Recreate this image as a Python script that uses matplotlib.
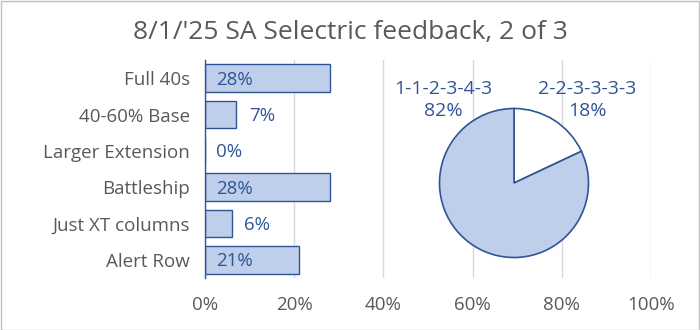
import matplotlib.pyplot as plt
from matplotlib.patches import Rectangle

plt.rcParams["font.family"] = ["Open Sans", "DejaVu Sans"]

# Survey responses
categories = ["Full 40s", "40-60% Base", "Larger Extension", "Battleship", "Just XT columns", "Alert Row"]
shares = [28, 7, 0, 28, 6, 21]

pie_labels = ["2-2-3-3-3-3", "1-1-2-3-4-3"]
pie_shares = [18, 82]

ticks = [0, 20, 40, 60, 80, 100]

FILL = "#BFCEEB"
EDGE = "#2F5597"
TEXT_BLUE = "#2F5597"
GREY_TEXT = "#595959"
GRID = "#D9D9D9"

W, H = 700, 330
fig = plt.figure(figsize=(W / 100, H / 100), dpi=100)
fig.patch.set_facecolor("white")
fig.patches.append(Rectangle((0.5 / W, 0.5 / H), 1 - 1.5 / W, 1 - 1.5 / H,
                             transform=fig.transFigure, fill=False,
                             edgecolor="#BFBFBF", linewidth=1.0))

fig.text(0.5, 1 - 32 / H, "8/1/'25 SA Selectric feedback, 2 of 3",
         ha="center", va="center", fontsize=19, color=GREY_TEXT)

# bar chart axes
left, right, top, bottom = 205, 651, 60, 278
ax = fig.add_axes([left / W, 1 - bottom / H, (right - left) / W, (bottom - top) / H])
y = list(range(len(categories)))
ax.barh(y, shares, height=0.77, color=FILL, edgecolor=EDGE, linewidth=1.0, zorder=3)
ax.set_ylim(len(categories) - 0.5, -0.5)
ax.set_xlim(0, 100)
ax.set_xticks(ticks)
ax.set_xticklabels([f"{t}%" for t in ticks], fontsize=13.5, color=GREY_TEXT)
ax.set_yticks(y)
ax.set_yticklabels(categories, fontsize=13.5, color=GREY_TEXT)
ax.tick_params(axis="y", length=0, pad=11)
ax.tick_params(axis="x", length=0, pad=13)
ax.grid(axis="x", color=GRID, linewidth=1.0, zorder=0)
for side in ["top", "right", "bottom"]:
    ax.spines[side].set_visible(False)
ax.spines["left"].set_color(EDGE)
ax.spines["left"].set_linewidth(1.0)
ax.spines["left"].set_zorder(4)

for yi, v in zip(y, shares):
    if v >= 10 or v == 0:
        xpos, off = 0, 8
    else:
        xpos, off = v, 9
    ax.annotate(f"{v}%", xy=(xpos, yi), xytext=(off, -1), textcoords="offset points",
                ha="left", va="center", fontsize=13.5, color=TEXT_BLUE, zorder=5)

# pie chart axes
cx, cy, r = 514, 183, 76
pax = fig.add_axes([(cx - r) / W, 1 - (cy + r) / H, 2 * r / W, 2 * r / H])
pax.pie(pie_shares, colors=["white", FILL], startangle=90, counterclock=False,
        wedgeprops=dict(edgecolor=EDGE, linewidth=1.2))
pax.set_xlim(-1.02, 1.02)
pax.set_ylim(-1.02, 1.02)
pax.set_aspect("equal")
pax.text(0.98, 1.11, f"{pie_labels[0]}\n{pie_shares[0]}%", ha="center", va="center",
         fontsize=14, color=TEXT_BLUE, linespacing=1.3, clip_on=False)
pax.text(-0.95, 1.11, f"{pie_labels[1]}\n{pie_shares[1]}%", ha="center", va="center",
         fontsize=14, color=TEXT_BLUE, linespacing=1.3, clip_on=False)

fig.savefig("out.png", dpi=100, facecolor="white")
